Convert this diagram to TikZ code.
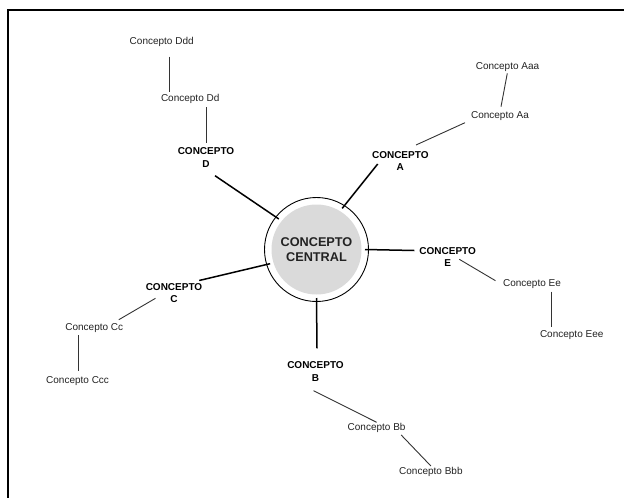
\documentclass[tikz,border=0pt]{standalone}
\usepackage{fontspec}
\setmainfont{Liberation Sans}
\definecolor{fillgray}{HTML}{DADADA}
\definecolor{txtdark}{HTML}{222222}
\definecolor{linegray}{HTML}{333333}
\begin{document}
\begin{tikzpicture}[x=1pt,y=-1pt,
  small/.style={inner sep=0pt, outer sep=0pt, text=txtdark, font=\fontsize{10}{12}\selectfont},
  major/.style={inner sep=0pt, outer sep=0pt, align=center, text=black, font=\fontsize{10}{12.3}\selectfont\bfseries},
  mainline/.style={line width=1.5pt, black},
  subline/.style={line width=0.9pt, linegray}]
\useasboundingbox (0,0) rectangle (624,498);
% frame
\draw[line width=2pt] (7.5,500) -- (7.5,10) -- (626,10);
% central concept
\node[circle, draw, line width=0.9pt, minimum size=104pt, inner sep=0pt] (ring) at (316.5,249.5) {};
\node[circle, fill=fillgray, minimum size=90pt, inner sep=0pt, outer sep=3.5pt, align=center, text=txtdark,
      font=\fontsize{12.7}{15}\selectfont\bfseries] (c) at (ring.center) {CONCEPTO\\CENTRAL};
% main concepts
\node[major] (D) at (206,157.5) {CONCEPTO\\D};
\node[major] (A) at (400.3,160.8) {CONCEPTO\\A};
\node[major] (E) at (447.7,257) {CONCEPTO\\E};
\node[major] (C) at (174,293) {CONCEPTO\\C};
\node[major] (B) at (315.5,371.5) {CONCEPTO\\B};
% sub concepts
\node[small] (Ddd) at (161.7,41.7) {Concepto Ddd};
\node[small] (Dd) at (190.2,98.8) {Concepto Dd};
\node[small] (Aaa) at (507.5,67) {Concepto Aaa};
\node[small] (Aa) at (500,116.3) {Concepto Aa};
\node[small] (Ee) at (532,284.5) {Concepto Ee};
\node[small] (Eee) at (571.7,335) {Concepto Eee};
\node[small] (Cc) at (94.3,328) {Concepto Cc};
\node[small] (Ccc) at (77.6,381) {Concepto Ccc};
\node[small] (Bb) at (376.6,428.3) {Concepto Bb};
\node[small] (Bbb) at (430.9,472.3) {Concepto Bbb};
% main connectors
\draw[mainline] ([shift={(9,18.2)}]D.center) -- (c.141);
\draw[mainline] ([shift={(-22.6,3.2)}]A.center) -- (c.58);
\draw[mainline] (c.0) -- ([shift={(-33.4,-6.5)}]E.center);
\draw[mainline] ([shift={(25.2,-12.5)}]C.center) -- (c.197);
\draw[mainline] (c.270) -- ([shift={(1.5,-23.2)}]B.center);
% sub connectors
\draw[subline] ([shift={(8,15)}]Ddd.center) -- ([shift={(-20.5,-7.1)}]Dd.center);
\draw[subline] ([shift={(16.5,8.5)}]Dd.center) -- ([shift={(0.7,-14.2)}]D.center);
\draw[subline] ([shift={(15.7,-15.8)}]A.center) -- ([shift={(-35,6.4)}]Aa.center);
\draw[subline] ([shift={(1,-9.6)}]Aa.center) -- ([shift={(-0.2,6.3)}]Aaa.center);
\draw[subline] ([shift={(11.6,2.3)}]E.center) -- ([shift={(-36.5,-3.8)}]Ee.center);
\draw[subline] ([shift={(19.5,7.2)}]Ee.center) -- ([shift={(-20.2,-8.3)}]Eee.center);
\draw[subline] ([shift={(-18.5,5.3)}]C.center) -- ([shift={(24.5,-8.3)}]Cc.center);
\draw[subline] ([shift={(-15.7,7)}]Cc.center) -- ([shift={(1,-10)}]Ccc.center);
\draw[subline] ([shift={(-2,19.2)}]B.center) -- ([shift={(0,-6)}]Bb.center);
\draw[subline] ([shift={(24.6,6.7)}]Bb.center) -- ([shift={(0,-6.3)}]Bbb.center);
\end{tikzpicture}
\end{document}
